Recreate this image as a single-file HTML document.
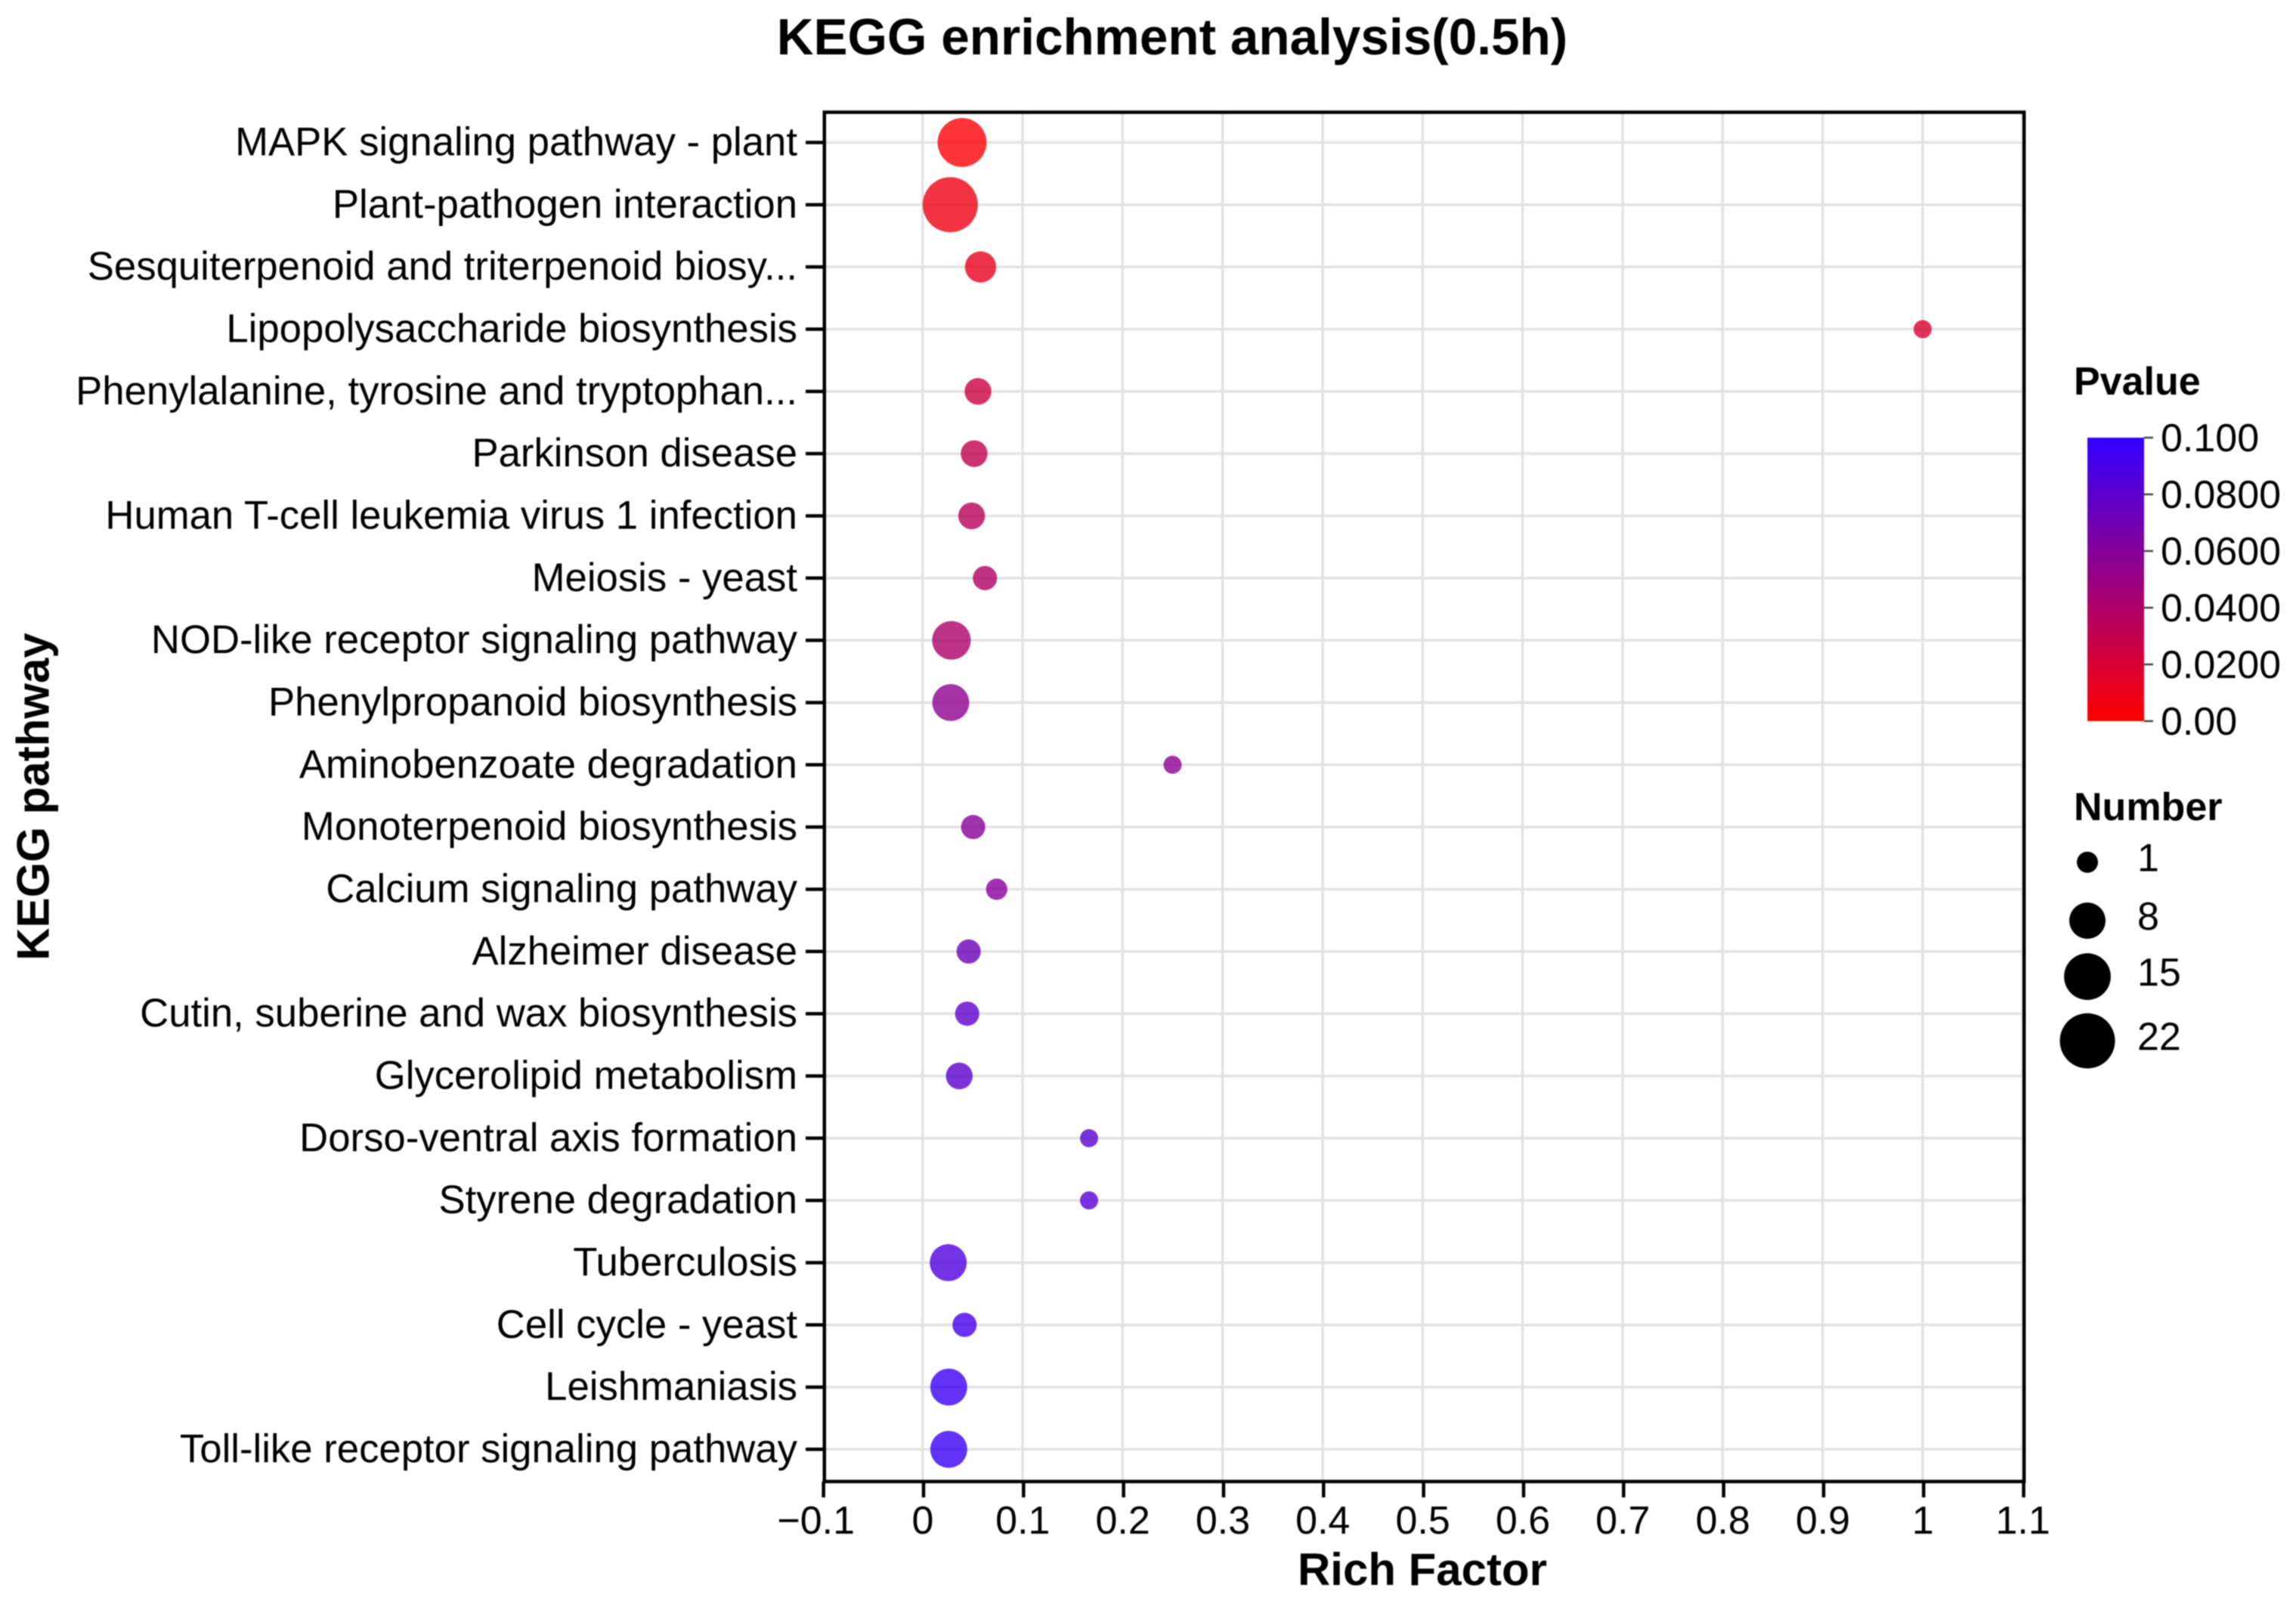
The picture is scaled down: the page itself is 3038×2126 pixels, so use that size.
<!DOCTYPE html>
<html lang="en">
<head>
<meta charset="utf-8">
<title>KEGG enrichment analysis(0.5h)</title>
<style>
html,body{margin:0;padding:0;background:#fff;}
#chart{display:block;width:3038px;height:2126px;filter:blur(0.8px);}
text{font-family:"Liberation Sans",Arial,sans-serif;fill:#000;}
.bold{font-weight:bold;}
</style>
</head>
<body>
<svg id="chart" xmlns="http://www.w3.org/2000/svg" width="3038" height="2126" viewBox="0 0 3038 2126">
  <defs>
    <linearGradient id="pvalue-gradient" x1="0" y1="1" x2="0" y2="0">
      <stop offset="0" stop-color="#ff0000"/>
      <stop offset="1" stop-color="#3300ff"/>
    </linearGradient>
  </defs>
  <rect x="0" y="0" width="3038" height="2126" fill="#ffffff"/>
  <text class="bold" x="1551" y="72" font-size="67.5" text-anchor="middle">KEGG enrichment analysis(0.5h)</text>
  <text class="bold" x="1882" y="2097" font-size="60" text-anchor="middle">Rich Factor</text>
  <text class="bold" transform="translate(64.5,1054) rotate(-90)" font-size="60" text-anchor="middle">KEGG pathway</text>
  <g id="grid"></g>
  <g id="marks"></g>
  <rect x="1090.8" y="148.5" width="1587.4" height="1811.5" fill="none" stroke="#000" stroke-width="4.5"/>
  <g id="x-axis"></g>
  <g id="y-axis"></g>
  <text class="bold" x="2744" y="522" font-size="52">Pvalue</text>
  <rect x="2762" y="579" width="75" height="375" fill="url(#pvalue-gradient)"/>
  <g id="colorbar-axis"></g>
  <text class="bold" x="2744" y="1085" font-size="52">Number</text>
  <g id="size-legend"></g>
</svg>
<script>
const categories = [
  "MAPK signaling pathway - plant",
  "Plant-pathogen interaction",
  "Sesquiterpenoid and triterpenoid biosy...",
  "Lipopolysaccharide biosynthesis",
  "Phenylalanine, tyrosine and tryptophan...",
  "Parkinson disease",
  "Human T-cell leukemia virus 1 infection",
  "Meiosis - yeast",
  "NOD-like receptor signaling pathway",
  "Phenylpropanoid biosynthesis",
  "Aminobenzoate degradation",
  "Monoterpenoid biosynthesis",
  "Calcium signaling pathway",
  "Alzheimer disease",
  "Cutin, suberine and wax biosynthesis",
  "Glycerolipid metabolism",
  "Dorso-ventral axis formation",
  "Styrene degradation",
  "Tuberculosis",
  "Cell cycle - yeast",
  "Leishmaniasis",
  "Toll-like receptor signaling pathway"
];
const richFactor = [0.0395, 0.0277, 0.058, 1.0, 0.0554, 0.0516, 0.0491, 0.0624, 0.0289, 0.0282, 0.25, 0.0506, 0.0741, 0.0461, 0.0446, 0.0367, 0.1665, 0.1665, 0.0257, 0.042, 0.0262, 0.0262];
const geneNumber = [17, 22, 6, 1, 4, 4, 4, 3, 10, 9, 1, 3, 2, 3, 3, 4, 1, 1, 9, 3, 9, 9];
const pValue = [0.002, 0.008, 0.011, 0.019, 0.026, 0.03, 0.035, 0.039, 0.041, 0.056, 0.057, 0.059, 0.06, 0.072, 0.08, 0.081, 0.082, 0.083, 0.087, 0.092, 0.096, 0.097];
const xTickValues = [-0.1, 0, 0.1, 0.2, 0.3, 0.4, 0.5, 0.6, 0.7, 0.8, 0.9, 1, 1.1];
const xTickLabels = ["\u22120.1", "0", "0.1", "0.2", "0.3", "0.4", "0.5", "0.6", "0.7", "0.8", "0.9", "1", "1.1"];
const colorbarValues = [0, 0.02, 0.04, 0.06, 0.08, 0.1];
const colorbarLabels = ["0.00", "0.0200", "0.0400", "0.0600", "0.0800", "0.100"];
const legendNumbers = [1, 8, 15, 22];

const SVGNS = "http://www.w3.org/2000/svg";
function xScale(v) { return 1220.7 + 1323.3 * v; }
function yScale(i) { return 188.5 + 82.33 * i; }
function sizeScale(n) { return Math.sqrt(576 + 226 * (n - 1)); }
function legendSizeScale(n) { return Math.sqrt(784 + 216.5 * (n - 1)); }
function colorbarY(v) { return 954 - (v / 0.1) * 375; }
function legendRowY(i) { return [1140.7, 1218, 1292, 1377][i]; }
function colorScale(p) {
  const t = Math.max(0, Math.min(1, p / 0.1));
  const r = Math.round(255 - 204 * t);
  const b = Math.round(255 * t);
  return "rgb(" + r + ",0," + b + ")";
}
function make(tag, attrs, parent, content) {
  const node = document.createElementNS(SVGNS, tag);
  Object.keys(attrs).forEach(function (k) { node.setAttribute(k, attrs[k]); });
  if (content !== undefined) node.textContent = content;
  parent.appendChild(node);
  return node;
}

const gridGroup = document.getElementById("grid");
const marksGroup = document.getElementById("marks");
const xAxisGroup = document.getElementById("x-axis");
const yAxisGroup = document.getElementById("y-axis");
const colorbarGroup = document.getElementById("colorbar-axis");
const legendGroup = document.getElementById("size-legend");

xTickValues.forEach(function (v, i) {
  const gx = xScale(v);
  if (i > 0) {
    const grid = make("line", { x1: gx, x2: gx, y1: 150, y2: 1958, stroke: "#e2e2e2", "stroke-width": 3.5 }, gridGroup);
    
    
  }
  const tx = gx + 1.3;
  const tick = make("line", { x1: tx, x2: tx, y1: 1960, y2: 1981, stroke: "#000", "stroke-width": 4.5 }, xAxisGroup);
  
  
  const labelX = v < 0 ? tx - 10 : tx - 1;
  const label = make("text", { x: labelX, y: 2029, "font-size": 52, "text-anchor": "middle" }, xAxisGroup, xTickLabels[i]);
  
  
});

categories.forEach(function (name, i) {
  const y = yScale(i);
  const grid = make("line", { x1: 1093, x2: 2675, y1: y, y2: y, stroke: "#e2e2e2", "stroke-width": 3.5 }, gridGroup);
  
  
  const tick = make("line", { x1: 1066, x2: 1091, y1: y, y2: y, stroke: "#000", "stroke-width": 4.5 }, yAxisGroup);
  
  
  const label = make("text", { x: 1055, y: y + 17, "font-size": 52.7, "text-anchor": "end" }, yAxisGroup, name);
  
  
  const mark = make("circle", {
    cx: xScale(richFactor[i]),
    cy: y,
    r: sizeScale(geneNumber[i]) / 2,
    fill: colorScale(pValue[i]),
    "fill-opacity": 0.8
  }, marksGroup);
  
  
});

colorbarValues.forEach(function (v, i) {
  const y = colorbarY(v);
  const tick = make("line", { x1: 2837, x2: 2849, y1: y, y2: y, stroke: "#444", "stroke-width": 2.5 }, colorbarGroup);
  
  
  const label = make("text", { x: 2859, y: y + 18, "font-size": 52 }, colorbarGroup, colorbarLabels[i]);
  
  
});

legendNumbers.forEach(function (n, i) {
  const y = legendRowY(i);
  const dot = make("circle", { cx: 2762, cy: y, r: legendSizeScale(n) / 2, fill: "#000" }, legendGroup);
  
  
  const label = make("text", { x: 2828, y: y + 12, "font-size": 52 }, legendGroup, String(n));
  
  
});
</script>
</body>
</html>
